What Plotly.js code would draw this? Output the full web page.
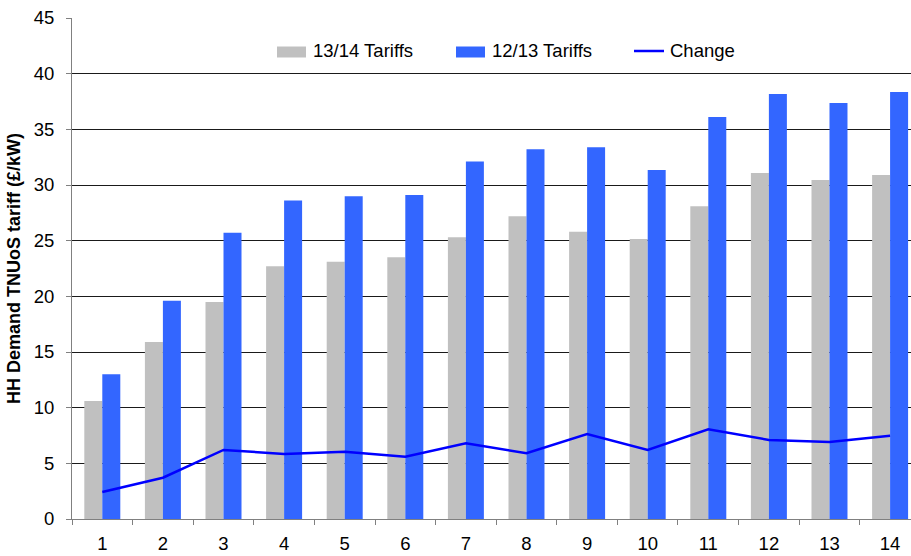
<!DOCTYPE html>
<html>
<head>
<meta charset="utf-8">
<script src="https://cdn.plot.ly/plotly-3.0.1.min.js"></script>
<style>html,body{margin:0;padding:0;background:#fff;}#chart{width:911px;height:556px;}</style>
</head>
<body>
<div id="chart"></div>
<script>
const categories = ["1","2","3","4","5","6","7","8","9","10","11","12","13","14"];
const tariffs1314 = [10.6, 15.9, 19.5, 22.7, 23.1, 23.5, 25.3, 27.2, 25.8, 25.15, 28.1, 31.08, 30.45, 30.9];
const tariffs1213 = [13.0, 19.6, 25.7, 28.6, 29.0, 29.1, 32.1, 33.2, 33.4, 31.35, 36.1, 38.17, 37.37, 38.35];
const change = [2.43, 3.71, 6.2, 5.84, 6.05, 5.6, 6.8, 5.9, 7.63, 6.2, 8.06, 7.1, 6.92, 7.48];
const yTicks = [0, 5, 10, 15, 20, 25, 30, 35, 40, 45];
const seriesNames = ["13/14 Tariffs", "12/13 Tariffs", "Change"];
const seriesColors = ["#C0C0C0", "#3366FF", "#0000FF"];

const traces = [
  {type: "bar", name: seriesNames[0], x: categories, y: tariffs1314,
   marker: {color: seriesColors[0]}},
  {type: "bar", name: seriesNames[1], x: categories, y: tariffs1213,
   marker: {color: seriesColors[1]}},
  {type: "scatter", mode: "lines", name: seriesNames[2], x: categories, y: change,
   line: {color: seriesColors[2], width: 2.5}}
];

// plot area geometry (pixels) used for the hand-drawn legend
const L = 72, T = 18, W = 911 - 72, H = 556 - 18 - 37;
const px = v => (v - L) / W;
const py = v => (T + H - v) / H;

const legendY = 51;
const shapes = [
  {type: "rect", xref: "paper", yref: "paper", x0: px(277), x1: px(306), y0: py(57.5), y1: py(46.5),
   fillcolor: seriesColors[0], line: {width: 0}},
  {type: "rect", xref: "paper", yref: "paper", x0: px(456), x1: px(485), y0: py(57.5), y1: py(46.5),
   fillcolor: seriesColors[1], line: {width: 0}},
  {type: "line", xref: "paper", yref: "paper", x0: px(634), x1: px(664), y0: py(legendY), y1: py(legendY),
   line: {color: seriesColors[2], width: 2.5}}
];
const legendTextX = [311, 490, 668];
const annotations = seriesNames.map((n, i) => ({
  xref: "paper", yref: "paper", x: px(legendTextX[i]), y: py(legendY),
  xanchor: "left", yanchor: "middle", text: n, showarrow: false,
  font: {size: 18.5, color: "#000"}
}));

const layout = {
  width: 911, height: 556,
  margin: {l: 72, r: 0, t: 18, b: 37, pad: 0},
  paper_bgcolor: "#fff", plot_bgcolor: "#fff",
  font: {family: "Liberation Sans, Arial, sans-serif", size: 18.5, color: "#000"},
  barmode: "group", bargap: 0.406, bargroupgap: 0,
  showlegend: false,
  shapes: shapes,
  annotations: annotations,
  xaxis: {type: "category", range: [-0.5, 13.345], showgrid: false, zeroline: false,
          showline: true, linecolor: "#808080", linewidth: 1,
          ticks: "outside", tickson: "boundaries", ticklen: 5, tickcolor: "#808080",
          tickfont: {size: 18.5}, ticklabelstandoff: 8, fixedrange: true},
  yaxis: {range: [0, 45], tickvals: yTicks, ticktext: yTicks.map(String),
          showgrid: true, gridcolor: "#1a1a1a", gridwidth: 1, zeroline: false,
          showline: true, linecolor: "#808080", linewidth: 1,
          ticks: "outside", ticklen: 5, tickcolor: "#808080",
          tickfont: {size: 18.5}, ticklabelstandoff: 8,
          title: {text: "<b>HH Demand TNUoS tariff (£/kW)</b>", font: {size: 18}, standoff: 8}}
};

Plotly.newPlot("chart", traces, layout, {displayModeBar: false, staticPlot: true});
</script>
</body>
</html>
